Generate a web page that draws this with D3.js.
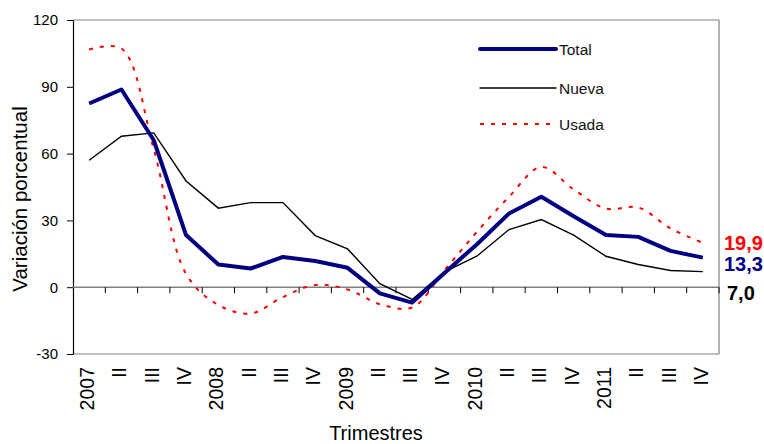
<!DOCTYPE html>
<html>
<head>
<meta charset="utf-8">
<script src="https://cdn.jsdelivr.net/npm/d3@7"></script>
<style>
  body { margin: 0; background: #fff; }
  svg { font-family: "Liberation Sans", Arial, sans-serif; }
</style>
</head>
<body>
<svg id="chart" width="764" height="444"></svg>
<script>
// data
var quarters = ['2007','II','III','IV','2008','II','III','IV','2009','II','III','IV',
                '2010','II','III','IV','2011','II','III','IV'];
var total = [82.5, 88.8, 66, 23.4, 10.2, 8.4, 13.6, 11.8, 8.7, -2.8, -6.9, 6.4,
             19.2, 33.1, 40.6, 31.9, 23.4, 22.6, 16.3, 13.3];
var nueva = [57, 67.8, 69.3, 47.7, 35.5, 38, 38, 23.2, 17.2, 1.6, -5.5, 6.9,
             13.9, 25.9, 30.4, 23.4, 13.9, 10.2, 7.5, 7.0];
var usada = [106.7, 107.2, 62, 6, -8, -11.8, -4.4, 1, -1, -7.6, -9.1, 7.6,
             24.8, 40.6, 54, 43.9, 35.3, 35.8, 26.4, 19.9];
var yTicks = [-30, 0, 30, 60, 90, 120];

var svg = d3.select('#chart');
var plotL = 73, plotR = 719, plotT = 20, plotB = 354;

var x = d3.scaleBand().domain(d3.range(quarters.length)).range([plotL, plotR]).padding(0);
var y = d3.scaleLinear().domain([-30, 120]).range([plotB, plotT]);
var cx = function(i){ return x(i) + x.bandwidth() / 2; };

// frame
svg.append('line').attr('x1', plotL).attr('x2', plotR).attr('y1', plotT).attr('y2', plotT)
  .attr('stroke', '#808080').attr('stroke-width', 1.2);
svg.append('line').attr('x1', plotR).attr('x2', plotR).attr('y1', plotT).attr('y2', plotB)
  .attr('stroke', '#808080').attr('stroke-width', 1.2);
svg.append('line').attr('x1', plotL).attr('x2', plotR).attr('y1', plotB).attr('y2', plotB)
  .attr('stroke', '#808080').attr('stroke-width', 1.2);

// y axis
var yAxis = svg.append('g').attr('transform', 'translate(' + plotL + ',0)')
  .call(d3.axisLeft(y).tickValues(yTicks).tickSize(6).tickSizeOuter(0)
    .tickFormat(function(d){ return String(d); }));
yAxis.select('.domain').attr('stroke', '#000').attr('stroke-width', 1.2);
yAxis.selectAll('.tick line').attr('stroke', '#000');
yAxis.selectAll('text').attr('font-size', 15).attr('font-family', '"Liberation Sans", Arial, sans-serif')
  .attr('x', -15).attr('fill', '#000');

// zero line + x ticks
svg.append('line').attr('x1', plotL).attr('x2', plotR).attr('y1', y(0)).attr('y2', y(0))
  .attr('stroke', '#808080').attr('stroke-width', 1.5);
svg.selectAll('.xtick').data(d3.range(1, quarters.length + 1)).enter().append('line')
  .attr('class', 'xtick')
  .attr('x1', function(i){ return plotL + i * x.bandwidth(); })
  .attr('x2', function(i){ return plotL + i * x.bandwidth(); })
  .attr('y1', y(0)).attr('y2', y(0) + 6)
  .attr('stroke', '#000').attr('stroke-width', 1);

// x labels
svg.selectAll('.xlab').data(quarters).enter().append('text')
  .attr('class', 'xlab')
  .attr('transform', function(d, i){ return 'translate(' + (cx(i) + 5) + ',367) rotate(-90)'; })
  .attr('text-anchor', 'end')
  .attr('font-size', 19.5)
  .text(function(d){ return d; });

// titles
svg.append('text')
  .attr('transform', 'translate(27,199) rotate(-90)')
  .attr('text-anchor', 'middle').attr('font-size', 20.5)
  .text('Variación porcentual');
svg.append('text')
  .attr('x', 376).attr('y', 440).attr('text-anchor', 'middle').attr('font-size', 20)
  .text('Trimestres');

// lines
var line = d3.line().x(function(d, i){ return cx(i); }).y(function(d){ return y(d); });
var smooth = d3.line().x(function(d, i){ return cx(i); }).y(function(d){ return y(d); })
  .curve(d3.curveCatmullRom.alpha(0.5));

svg.append('path').datum(nueva).attr('d', line)
  .attr('fill', 'none').attr('stroke', '#000').attr('stroke-width', 1.4);
svg.append('path').datum(usada).attr('d', smooth)
  .attr('fill', 'none').attr('stroke', '#ff0000').attr('stroke-width', 2)
  .attr('stroke-dasharray', '4,7');
svg.append('path').datum(total).attr('d', line)
  .attr('fill', 'none').attr('stroke', '#000080').attr('stroke-width', 4)
  .attr('stroke-linejoin', 'round');

// legend
var legend = [
  {name: 'Total', color: '#000080', width: 4, dash: null, y: 49},
  {name: 'Nueva', color: '#000', width: 1.4, dash: null, y: 88},
  {name: 'Usada', color: '#ff0000', width: 2, dash: '4,7', y: 124}
];
var lg = svg.selectAll('.lg').data(legend).enter().append('g').attr('class', 'lg');
lg.append('line').attr('x1', 480).attr('x2', 556)
  .attr('y1', function(d){ return d.y; }).attr('y2', function(d){ return d.y; })
  .attr('stroke', function(d){ return d.color; })
  .attr('stroke-width', function(d){ return d.width; })
  .attr('stroke-dasharray', function(d){ return d.dash; })
  .attr('stroke-linecap', function(d){ return d.dash ? 'butt' : 'round'; });
lg.append('text').attr('x', 559).attr('y', function(d){ return d.y + 5.5; })
  .attr('font-size', 15.5).attr('fill', '#111')
  .text(function(d){ return d.name; });

// end labels
var fmt = function(v){ return v.toFixed(1).replace('.', ','); };
var ends = [
  {v: usada[usada.length - 1], color: '#ff0000', dy: 0, x: 724},
  {v: total[total.length - 1], color: '#000080', dy: 6, x: 724},
  {v: nueva[nueva.length - 1], color: '#000', dy: 21, x: 727}
];
svg.selectAll('.endlab').data(ends).enter().append('text')
  .attr('class', 'endlab')
  .attr('x', function(d){ return d.x; })
  .attr('y', function(d){ return y(d.v) + d.dy + 7; })
  .attr('font-size', 20).attr('font-weight', 'bold')
  .attr('fill', function(d){ return d.color; })
  .text(function(d){ return fmt(d.v); });
</script>
</body>
</html>
